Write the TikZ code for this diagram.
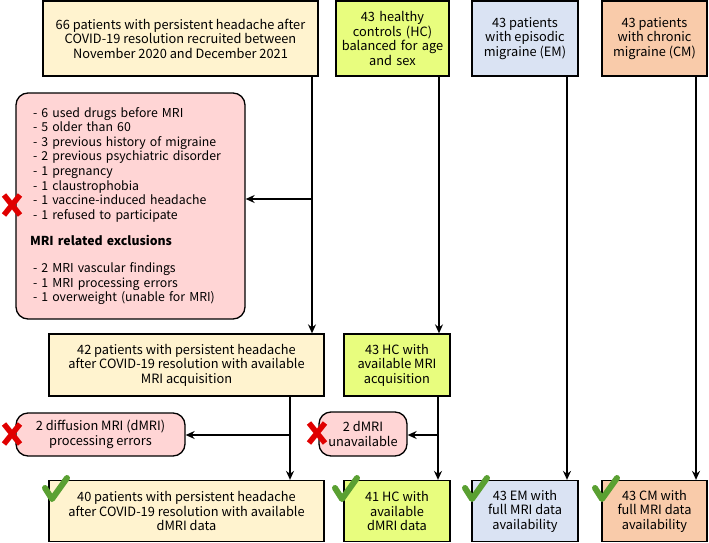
\documentclass[tikz,border=0pt]{standalone}
\usepackage{fontspec}
\setmainfont{Noto Sans CJK KR}
\usetikzlibrary{arrows.meta}
\definecolor{cyellow}{HTML}{FFF3CF}
\definecolor{cgreen}{HTML}{E8FD7E}
\definecolor{cblue}{HTML}{DAE3F3}
\definecolor{corange}{HTML}{F9CBAA}
\definecolor{cpink}{HTML}{FFD5D5}
\definecolor{cred}{HTML}{E00000}
\definecolor{cok}{HTML}{5AA032}
\begin{document}
\begin{tikzpicture}[x=1pt,y=-1pt]
    \tikzstyle{box}=[draw=black,line width=1.3pt,align=center,inner sep=2pt,font=\fontsize{12.8}{14.5}\selectfont]
    \tikzstyle{excl}=[box,rounded corners=12pt,fill=cpink]
    \tikzstyle{arr}=[line width=1.3pt,-{Stealth[length=9pt,width=8pt,inset=3pt]}]
    \tikzset{nomark/.pic={\draw[cred,line width=5.5pt] (-8,-10) -- (8,10) (-8,10) -- (8,-10);},
             okmark/.pic={\draw[cok,line width=6pt,line cap=round,line join=round] (2,12) -- (9,23) -- (24,2);}}
    \useasboundingbox (0,0) rectangle (709,543);
    % first row
    \node (pat)[box,fill=cyellow,minimum width=275,minimum height=75] at (180.5,38.5) {66 patients with persistent headache after\\COVID-19 resolution recruited between\\November 2020 and December 2021};
    \node (hc)[box,fill=cgreen,minimum width=113,minimum height=75,text width=108] at (392.5,38.5) {43 healthy\\controls (HC)\\balanced for age\\and sex};
    \node (em)[box,fill=cblue,minimum width=106,minimum height=75] at (525,38.5) {43 patients\\with episodic\\migraine (EM)};
    \node (cm)[box,fill=corange,minimum width=105,minimum height=75] at (654.5,38.5) {43 patients\\with chronic\\migraine (CM)};
    % exclusions
    \node (ex1)[excl,align=left,text width=195,inner xsep=17,minimum height=226,font=\fontsize{12.3}{14.6}\selectfont] at (130.5,206) {%
        - 6 used drugs before MRI\\
        - 5 older than 60\\
        \mbox{- 3 previous history of migraine}\\
        \mbox{- 2 previous psychiatric disorder}\\
        - 1 pregnancy\\
        - 1 claustrophobia\\
        \mbox{- 1 vaccine-induced headache}\\
        - 1 refused to participate\\[12pt]
        \hspace*{-3pt}\textbf{MRI related exclusions}\\[12pt]
        - 2 MRI vascular findings\\
        - 1 MRI processing errors\\
        \mbox{- 1 overweight (unable for MRI)}};
    % second row
    \node (pat2)[box,fill=cyellow,minimum width=275,minimum height=62] at (186.5,365) {42 patients with persistent headache\\after COVID-19 resolution with available\\MRI acquisition};
    \node (hc2)[box,fill=cgreen,minimum width=106,minimum height=62] at (397,365) {43 HC with\\available MRI\\acquisition};
    \node (ex2)[excl,minimum width=169,minimum height=43] at (100.5,434.5) {2 diffusion MRI (dMRI)\\processing errors};
    \node (ex3)[excl,minimum width=88,minimum height=44] at (363,434) {2 dMRI\\unavailable};
    % last row
    \node (pat3)[box,fill=cyellow,minimum width=275,minimum height=61] at (186.5,511) {40 patients with persistent headache\\after COVID-19 resolution with available\\dMRI data};
    \node (hc3)[box,fill=cgreen,minimum width=106,minimum height=61] at (397,511) {41 HC with\\available\\dMRI data};
    \node (em3)[box,fill=cblue,minimum width=106,minimum height=61] at (525,511) {43 EM with\\full MRI data\\availability};
    \node (cm3)[box,fill=corange,minimum width=105,minimum height=61] at (654.5,511) {43 CM with\\full MRI data\\availability};
    % connectors
    \coordinate (j1) at (312,199);
    \coordinate (j2) at (290,435);
    \coordinate (j3) at (438,435);
    \draw [arr] (pat.south -| j1) -- (pat2.north -| j1);
    \draw [arr] (j1) -- (j1 -| ex1.east);
    \draw [arr] (hc.south -| 439,0) -- (hc2.north -| 439,0);
    \draw [arr] (em.south -| 567,0) -- (em3.north -| 567,0);
    \draw [arr] (cm.south -| 696,0) -- (cm3.north -| 696,0);
    \draw [arr] (pat2.south -| j2) -- (pat3.north -| j2);
    \draw [arr] (j2) -- (j2 -| ex2.east);
    \draw [arr] (hc2.south -| j3) -- (hc3.north -| j3);
    \draw [arr] (j3) -- (j3 -| ex3.east);
    % marks
    \pic at (12,205) {nomark};
    \pic at (12,434) {nomark};
    \pic at (317,433) {nomark};
    \foreach \x in {43,333,463,593}
        \pic at (\x,476) {okmark};
\end{tikzpicture}
\end{document}
